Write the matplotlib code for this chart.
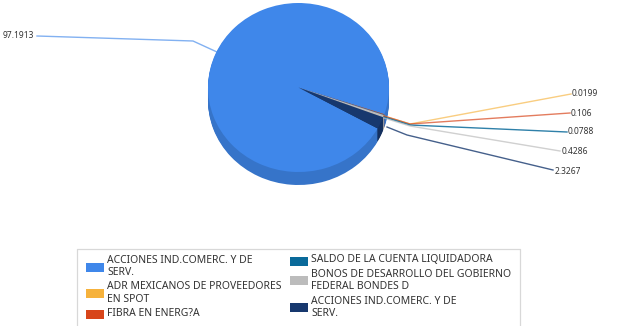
import matplotlib
matplotlib.use('Agg')
import matplotlib.pyplot as plt
from matplotlib.colors import to_rgb

plt.rcParams['font.family'] = ['Noto Sans', 'DejaVu Sans']

values = [97.1913, 0.0199, 0.106, 0.0788, 0.4286, 2.3267]
value_labels = ['97.1913', '0.0199', '0.106', '0.0788', '0.4286', '2.3267']
colors = ['#3f87ea', '#f6b23c', '#d8451a', '#0a6a9a', '#bcbcbc', '#17386e']
legend_labels = [
    'ACCIONES IND.COMERC. Y DE\nSERV.',
    'ADR MEXICANOS DE PROVEEDORES\nEN SPOT',
    'FIBRA EN ENERG?A',
    'SALDO DE LA CUENTA LIQUIDADORA',
    'BONOS DE DESARROLLO DEL GOBIERNO\nFEDERAL BONDES D',
    'ACCIONES IND.COMERC. Y DE\nSERV.',
]

W, H = 620, 326
CX, CY, RX, RY = 298.5, 87.5, 90.5, 84.5
DEPTH = 13
START = -29

fig = plt.figure(figsize=(W / 100, H / 100), dpi=100)

# pie axes, one data unit is one radius so the circle comes out as an ellipse
ax_pie = fig.add_axes([0, 0, 1, 1])
side = [tuple(c * 0.86 for c in to_rgb(col)) for col in colors]
for k in range(DEPTH, 0, -1):
    ax_pie.pie(values, colors=side, startangle=START, counterclock=False,
               center=(0, -k / RY), radius=1, frame=False)
ax_pie.pie(values, colors=colors, startangle=START, counterclock=False,
           center=(0, 0), radius=1, frame=False)
ax_pie.set_aspect('auto')
ax_pie.set_xlim(-CX / RX, (W - CX) / RX)
ax_pie.set_ylim((CY - H) / RY, CY / RY)
ax_pie.axis('off')

# pixel overlay for leader lines and the legend
ax = fig.add_axes([0, 0, 1, 1])
ax.set_xlim(0, W)
ax.set_ylim(H, 0)
ax.axis('off')
ax.patch.set_alpha(0)

leaders = [
    [(217, 52), (193, 41), (37, 36)],
    [(384, 116), (410, 124), (571, 94)],
    [(384, 116), (410, 124), (570, 113)],
    [(384, 117), (410, 125), (567, 132)],
    [(384, 118), (410, 126), (560, 151)],
    [(387, 127), (407, 135), (553, 170)],
]
label_pos = [(34, 36, 'right'), (572, 93, 'left'), (571, 113, 'left'),
             (568, 132, 'left'), (562, 151, 'left'), (555, 171, 'left')]
line_alpha = [0.65, 0.65, 0.7, 0.85, 0.7, 0.8]
for pts, col, txt, (tx, ty, ha), a in zip(leaders, colors, value_labels, label_pos, line_alpha):
    ax.plot([p[0] for p in pts], [p[1] for p in pts], color=col, lw=1.0, alpha=a)
    ax.text(tx, ty, txt, ha=ha, va='center', fontsize=6.1, color='#333333')

ax.plot([77, 77, 520, 520], [326, 249, 249, 326], color='#d8d8d8', lw=0.9)

swatch_pos = [(86, 267), (86, 293), (86, 314), (290, 261), (290, 280), (290, 307)]
text_pos = [(107, 266.5), (107, 293), (107, 314), (311, 260), (311, 280.5), (311, 307.5)]
for (sx, sy), (tx, ty), col, txt in zip(swatch_pos, text_pos, colors, legend_labels):
    ax.add_patch(plt.Rectangle((sx, sy - 4.5), 18, 9, color=col, lw=0))
    ax.text(tx, ty, txt, ha='left', va='center', fontsize=7.5, color='#333333',
            linespacing=1.17)

fig.savefig('out.png', dpi=100)
